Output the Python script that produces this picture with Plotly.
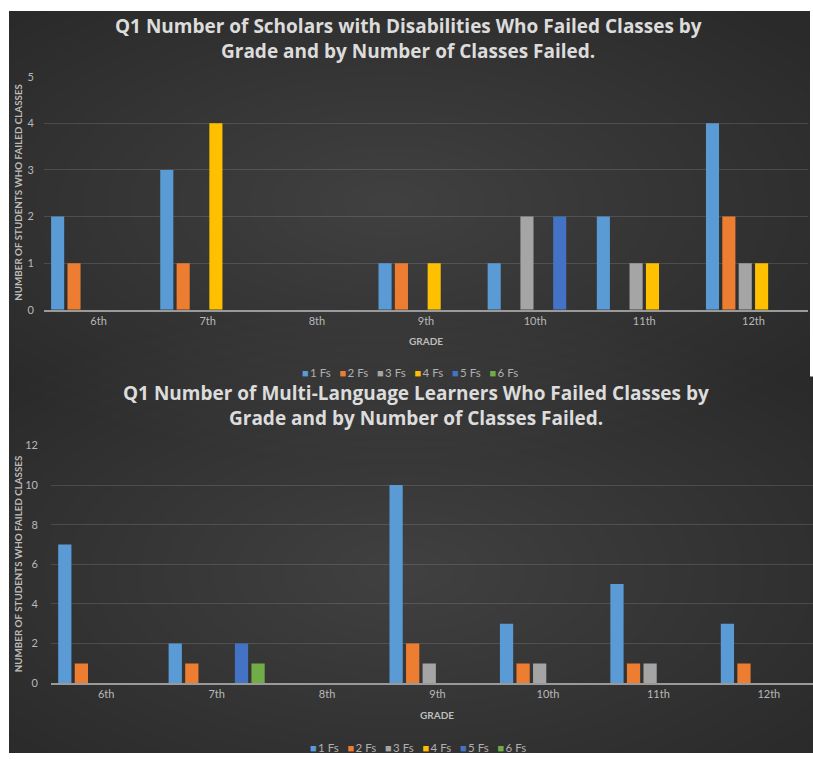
import plotly.graph_objects as go

W, H = 813, 759

grades = ["6th", "7th", "8th", "9th", "10th", "11th", "12th"]
series_names = ["1 Fs", "2 Fs", "3 Fs", "4 Fs", "5 Fs", "6 Fs"]
series_colors = ["#5B9BD5", "#ED7D31", "#A5A5A5", "#FFC000", "#4472C4", "#70AD47"]

# Scholars with disabilities (blank = no students)
swd_1f = [2, 3, None, 1, 1, 2, 4]
swd_2f = [1, 1, None, 1, None, None, 2]
swd_3f = [None, None, None, None, 2, 1, 1]
swd_4f = [None, 4, None, 1, None, 1, 1]
swd_5f = [None, None, None, None, 2, None, None]
swd_6f = [None, None, None, None, None, None, None]

# Multi-language learners
mll_1f = [7, 2, None, 10, 3, 5, 3]
mll_2f = [1, 1, None, 2, 1, 1, 1]
mll_3f = [None, None, None, 1, 1, 1, None]
mll_4f = [None, None, None, None, None, None, None]
mll_5f = [None, 2, None, None, None, None, None]
mll_6f = [None, 1, None, None, None, None, None]

swd = [swd_1f, swd_2f, swd_3f, swd_4f, swd_5f, swd_6f]
mll = [mll_1f, mll_2f, mll_3f, mll_4f, mll_5f, mll_6f]

title_top = ["Q1 Number of Scholars with Disabilities Who Failed Classes by",
             "Grade and by Number of Classes Failed."]
title_bot = ["Q1 Number of Multi-Language Learners Who Failed Classes by",
             "Grade and by Number of Classes Failed."]
y_title = "NUMBER OF STUDENTS WHO FAILED CLASSES"
x_title = "GRADE"


def px(x):
    return x / W


def py(y):
    return 1 - y / H


fig = go.Figure()

for name, color, vals in zip(series_names, series_colors, swd):
    fig.add_trace(go.Bar(x=grades, y=vals, name=name, marker_color=color,
                         marker_line_width=0, showlegend=False,
                         xaxis="x", yaxis="y"))
for name, color, vals in zip(series_names, series_colors, mll):
    fig.add_trace(go.Bar(x=grades, y=vals, name=name, marker_color=color,
                         marker_line_width=0, showlegend=False,
                         xaxis="x2", yaxis="y2"))

# dark panel with a soft radial highlight behind each chart
shapes = [
    dict(type="rect", xref="paper", yref="paper", x0=px(9), x1=1,
         y0=0, y1=py(4), fillcolor="#2a2a2a", line_width=0, layer="below"),
]
steps = 22
for cx, cy, rx, ry in [(390, 200, 520, 260), (405, 575, 530, 270)]:
    for i in range(steps):
        f = 1 - i / steps
        shapes.append(dict(type="circle", xref="paper", yref="paper",
                           x0=px(cx - rx * f), x1=px(cx + rx * f),
                           y0=py(cy + ry * f), y1=py(cy - ry * f),
                           fillcolor="rgba(255,255,255,0.009)", line_width=0,
                           layer="below"))
# white page margins around the panel
shapes += [
    dict(type="rect", xref="paper", yref="paper", x0=0, x1=px(9), y0=0, y1=1,
         fillcolor="white", line_width=0, layer="below"),
    dict(type="rect", xref="paper", yref="paper", x0=0, x1=1, y0=py(4), y1=1,
         fillcolor="white", line_width=0, layer="below"),
    dict(type="rect", xref="paper", yref="paper", x0=px(810), x1=1, y0=py(376), y1=1,
         fillcolor="white", line_width=0, layer="below"),
]

tick_font = dict(family="Lato", size=11, color="#b8b8b8")
grid = "rgba(255,255,255,0.13)"

axis_common_x = dict(type="category", showgrid=False, showline=True, linecolor="#9a9a9a",
                     linewidth=1.5, ticks="", tickfont=tick_font, fixedrange=True)
axis_common_y = dict(showgrid=True, gridcolor=grid, gridwidth=1, zeroline=False,
                     showline=False, ticks="", tickfont=tick_font, fixedrange=True)

annotations = []


def title_lines(lines, ys, cx):
    for t, yy in zip(lines, ys):
        annotations.append(dict(text=t, xref="paper", yref="paper", x=px(cx), y=py(yy),
                                showarrow=False, xanchor="center", yanchor="middle",
                                font=dict(family="Open Sans", size=19, color="#dcdcdc",
                                          weight="bold")))


def legend_line(cx, cy):
    parts = []
    for name, color in zip(series_names, series_colors):
        parts.append(f"<span style='color:{color};font-size:11px'>\u25A0</span>\u2009{name}")
    annotations.append(dict(text="\u00a0\u00a0\u00a0".join(parts), xref="paper", yref="paper",
                            x=px(cx), y=py(cy), showarrow=False, xanchor="center",
                            yanchor="middle",
                            font=dict(family="Lato", size=11.5, color="#b0b0b0")))


def side_titles(x_y, x_cx, y_x, y_cy):
    annotations.append(dict(text=x_title, xref="paper", yref="paper", x=px(x_cx), y=py(x_y),
                            showarrow=False, xanchor="center", yanchor="middle",
                            font=dict(family="Lato", size=10, color="#bdbdbd", weight="bold")))
    annotations.append(dict(text=y_title, xref="paper", yref="paper", x=px(y_x), y=py(y_cy),
                            showarrow=False, xanchor="center", yanchor="middle", textangle=-90,
                            font=dict(family="Lato", size=9.8, color="#bdbdbd", weight="bold")))


title_lines(title_top, [19, 45], 408)
title_lines(title_bot, [393, 418], 416)
legend_line(410, 372)
legend_line(418, 753)
side_titles(340, 426, 18, 189)
side_titles(720, 437, 18, 567)

fig.update_layout(
    width=W, height=H, margin=dict(l=0, r=0, t=0, b=0),
    paper_bgcolor="white", plot_bgcolor="rgba(0,0,0,0)",
    barmode="group", bargap=0.1, bargroupgap=0.2,
    shapes=shapes, annotations=annotations, showlegend=False,
    xaxis=dict(domain=[px(44), px(808)], anchor="y", range=[-0.5, 6.5], **axis_common_x),
    yaxis=dict(domain=[py(308), py(71)], anchor="x", range=[0, 5], dtick=1,
               ticklabelstandoff=9, **axis_common_y),
    xaxis2=dict(domain=[px(51), 1], anchor="y2", range=[-0.5, 6.40], **axis_common_x),
    yaxis2=dict(domain=[py(688), py(446)], anchor="x2", range=[0, 12], dtick=2,
                ticklabelstandoff=12, **axis_common_y),
)

fig.write_html("out.html")
